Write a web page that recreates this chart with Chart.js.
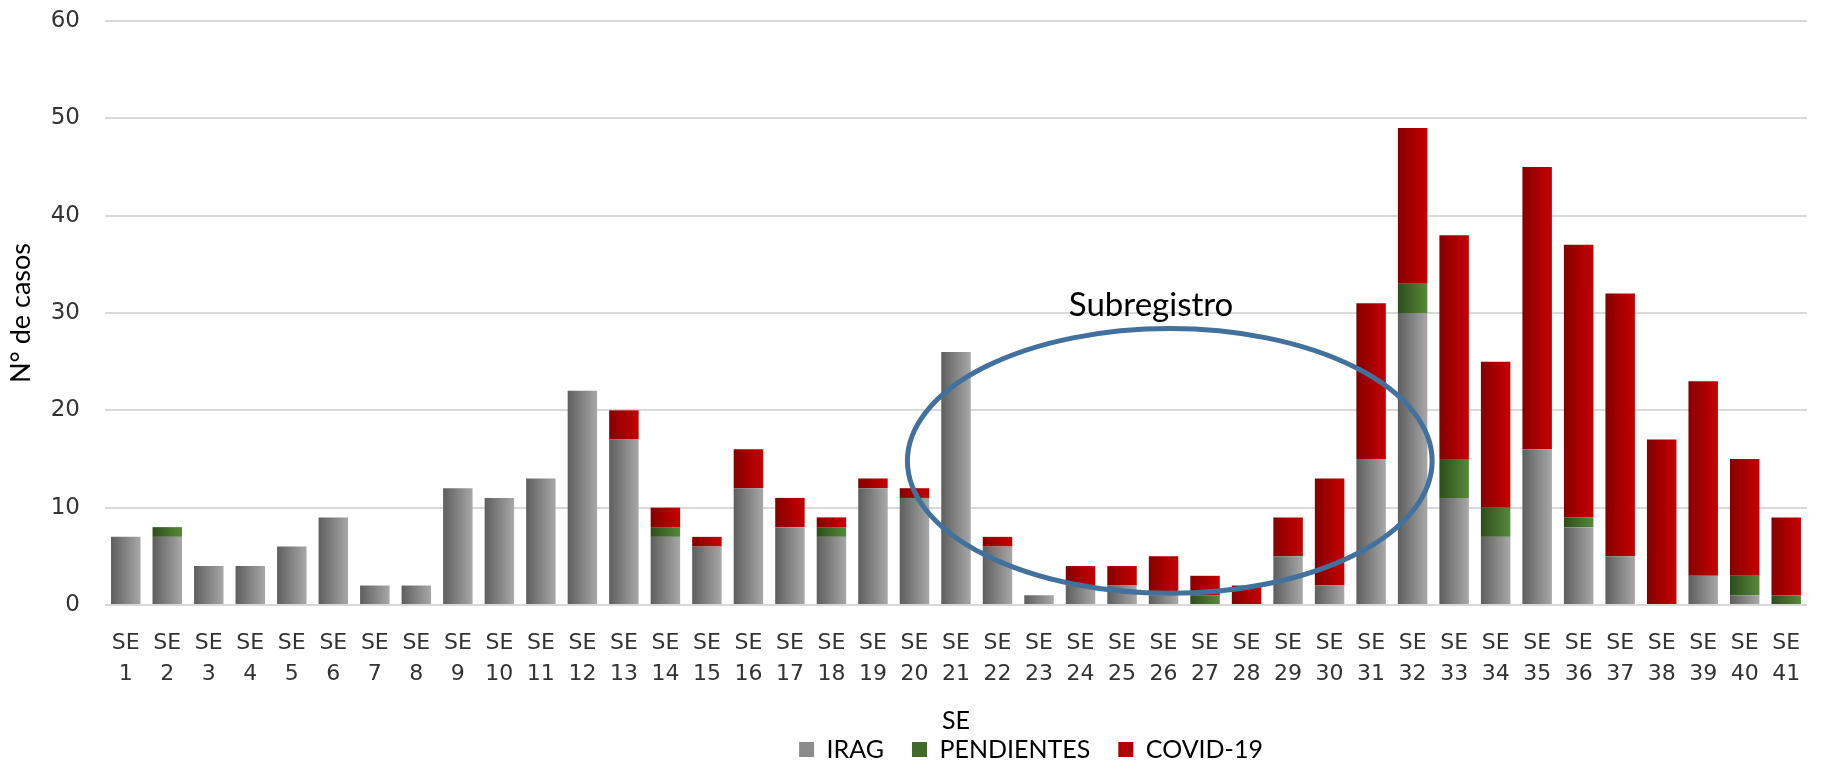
<!DOCTYPE html>
<html>
<head>
<meta charset="utf-8">
<script src="https://cdn.jsdelivr.net/npm/chart.js@4.4.1/dist/chart.umd.min.js"></script>
<style>
  html, body { margin: 0; padding: 0; background: #fff; }
  #wrap { width: 1823px; height: 764px; position: relative; }
</style>
</head>
<body>
<div id="wrap"><canvas id="grafico"></canvas></div>
<script>
// Semanas epidemiológicas
const semanas = [1, 2, 3, 4, 5, 6, 7, 8, 9, 10, 11, 12, 13, 14, 15, 16, 17, 18, 19, 20,
                 21, 22, 23, 24, 25, 26, 27, 28, 29, 30, 31, 32, 33, 34, 35, 36, 37, 38, 39, 40, 41];

// Casos por semana
const irag       = [7, 7, 4, 4, 6, 9, 2, 2, 12, 11, 13, 22, 17, 7, 6, 12, 8, 7, 12, 11,
                    26, 6, 1, 2, 2, 1, 0, 0, 5, 2, 15, 30, 11, 7, 16, 8, 5, 0, 3, 1, 0];
const pendientes = [0, 1, 0, 0, 0, 0, 0, 0, 0, 0, 0, 0, 0, 1, 0, 0, 0, 1, 0, 0,
                    0, 0, 0, 0, 0, 0, 1, 0, 0, 0, 0, 3, 4, 3, 0, 1, 0, 0, 0, 2, 1];
const covid      = [0, 0, 0, 0, 0, 0, 0, 0, 0, 0, 0, 0, 3, 2, 1, 4, 3, 1, 1, 1,
                    0, 1, 0, 2, 2, 4, 2, 2, 4, 11, 16, 16, 23, 15, 29, 28, 27, 17, 20, 12, 8];

// Óvalo "Subregistro" (en unidades del gráfico: índice de semana y nº de casos)
const ovalo = { cx: 25.15, cy: 14.8, rx: 6.32, ry: 13.6 };
const textoOvalo = { texto: 'Subregistro', x: 24.7, y: 30.8 };

const BAR_FRAC = 0.71;

// degradado horizontal para cada barra
function degradado(c1, c2) {
    return function(context) {
        const chart = context.chart;
        const xs = chart.scales.x;
        if (!xs || context.dataIndex === undefined) return c2;
        const cx = xs.getPixelForValue(context.dataIndex);
        const w = (xs.width / semanas.length) * BAR_FRAC;
        const g = chart.ctx.createLinearGradient(cx - w / 2, 0, cx + w / 2, 0);
        g.addColorStop(0, c1);
        g.addColorStop(1, c2);
        return g;
    };
}

const pluginOvalo = {
    id: 'ovalo',
    afterLayout(chart) {
        // la leyenda del original está corrida a la derecha
        if (chart.legend) {
            chart.legend.left += 127;
            chart.legend.right += 127;
        }
    },
    afterDatasetsDraw(chart) {
        const ctx = chart.ctx;
        const xs = chart.scales.x, ys = chart.scales.y;
        const paso = xs.width / semanas.length;
        const cx = xs.getPixelForValue(ovalo.cx);
        const cy = ys.getPixelForValue(ovalo.cy);
        const rx = ovalo.rx * paso;
        const ry = ys.getPixelForValue(0) - ys.getPixelForValue(ovalo.ry);
        ctx.save();
        ctx.beginPath();
        ctx.ellipse(cx, cy, rx, ry, 0, 0, Math.PI * 2);
        ctx.strokeStyle = '#41719c';
        ctx.lineWidth = 5;
        ctx.stroke();
        ctx.fillStyle = '#000';
        ctx.font = '33px Lato';
        ctx.textAlign = 'center';
        ctx.textBaseline = 'middle';
        ctx.fillText(textoOvalo.texto, xs.getPixelForValue(textoOvalo.x), ys.getPixelForValue(textoOvalo.y));
        ctx.restore();
    }
};

const ctx = document.getElementById('grafico').getContext('2d');
new Chart(ctx, {
    type: 'bar',
    data: {
        labels: semanas.map(n => ['SE', String(n)]),
        datasets: [
            { label: 'IRAG', data: irag, backgroundColor: degradado('#5e5e5e', '#a8a8a8') },
            { label: 'PENDIENTES', data: pendientes, backgroundColor: degradado('#2e4d1b', '#56893a') },
            { label: 'COVID-19', data: covid, backgroundColor: degradado('#850000', '#c80000') }
        ]
    },
    options: {
        responsive: true, maintainAspectRatio: false,
        animation: false,
        datasets: { bar: { barPercentage: 0.9, categoryPercentage: BAR_FRAC / 0.9, borderWidth: 0 } },
        layout: { padding: { top: 0, right: 15, bottom: -8, left: 0 } },
        plugins: {
            tooltip: { enabled: false },
            legend: {
                position: 'bottom',
                labels: {
                    font: { family: 'Lato', size: 25 },
                    color: '#262626',
                    boxWidth: 15, boxHeight: 15,
                    padding: 28,
                    generateLabels(chart) {
                        const cols = ['#8c8c8c', '#3f6b29', '#b00000'];
                        return chart.data.datasets.map((d, i) => ({
                            text: d.label, fillStyle: cols[i], strokeStyle: cols[i],
                            lineWidth: 0, datasetIndex: i, hidden: false
                        }));
                    }
                }
            }
        },
        scales: {
            x: {
                stacked: true,
                grid: { display: false, drawTicks: false },
                border: { display: false },
                ticks: {
                    autoSkip: false, maxRotation: 0, minRotation: 0,
                    padding: 22.6,
                    color: '#333',
                    font: { family: 'DejaVu Sans', size: 22, lineHeight: 1.4 }
                },
                title: {
                    display: true, text: 'SE', color: '#000',
                    font: { family: 'Lato', size: 25 },
                    padding: { top: -5.8, bottom: -27 }
                }
            },
            y: {
                stacked: true,
                min: 0, max: 60,
                afterFit(scale) {
                    scale.width = 105;
                    scale.paddingTop = 21;
                    scale.paddingBottom = 13;
                },
                ticks: {
                    stepSize: 10, padding: 25, color: '#333',
                    font: { family: 'DejaVu Sans', size: 23 }
                },
                grid: { color: '#d9d9d9', lineWidth: 2, drawTicks: false },
                border: { display: false },
                title: {
                    display: true, text: 'N° de casos', color: '#000',
                    font: { family: 'Lato', size: 27 },
                    padding: { top: 4.8, bottom: 0 }
                }
            }
        }
    },
    plugins: [pluginOvalo]
});
</script>
</body>
</html>
